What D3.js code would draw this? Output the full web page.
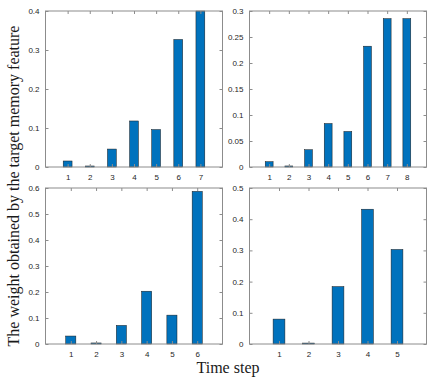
<!DOCTYPE html>
<html>
<head>
<meta charset="utf-8">
<script src="https://cdn.jsdelivr.net/npm/d3@7"></script>
<style>
  body { margin: 0; background: #fff; }
  svg { display: block; }
  .tick text { font-family: "Liberation Sans", Arial, sans-serif; font-size: 8px; fill: #262626; }
</style>
</head>
<body>
<div id="chart-area"></div>
<script>
// values
let steps1 = [1, 2, 3, 4, 5, 6, 7];
let weights1 = [0.0154, 0.0026, 0.046, 0.118, 0.096, 0.327, 0.400];

let steps2 = [1, 2, 3, 4, 5, 6, 7, 8];
let weights2 = [0.0102, 0.002, 0.0332, 0.0836, 0.0683, 0.2323, 0.2853, 0.2853];

let steps3 = [1, 2, 3, 4, 5, 6];
let weights3 = [0.0306, 0.004, 0.0715, 0.203, 0.111, 0.587];

let steps4 = [1, 2, 3, 4, 5];
let weights4 = [0.0798, 0.003, 0.184, 0.432, 0.303];

let yTicks1 = [0, 0.1, 0.2, 0.3, 0.4];
let yTicks2 = [0, 0.05, 0.1, 0.15, 0.2, 0.25, 0.3];
let yTicks3 = [0, 0.1, 0.2, 0.3, 0.4, 0.5, 0.6];
let yTicks4 = [0, 0.1, 0.2, 0.3, 0.4, 0.5];

let width = 436, height = 377;

let svg = d3.select("#chart-area")
    .append("svg")
        .attr("width", width)
        .attr("height", height);

let panels = [
    {steps: steps1, values: weights1, yTicks: yTicks1, xMax: 8, yMax: 0.4, left: 45.5, top: 11},
    {steps: steps2, values: weights2, yTicks: yTicks2, xMax: 9, yMax: 0.3, left: 249.5, top: 11},
    {steps: steps3, values: weights3, yTicks: yTicks3, xMax: 7, yMax: 0.6, left: 45.5, top: 188},
    {steps: steps4, values: weights4, yTicks: yTicks4, xMax: 6, yMax: 0.5, left: 249.5, top: 188}
];
let pw = 177, ph = 156;

panels.forEach(p => {
    let g = svg.append("g")
        .attr("transform", "translate(" + p.left + ", " + p.top + ")");

    let x = d3.scaleLinear().domain([0, p.xMax]).range([0, pw]);
    let y = d3.scaleLinear().domain([0, p.yMax]).range([ph, 0]);
    let barW = x(0.4) - x(0);

    // bars
    g.selectAll("rect.bar")
        .data(p.steps)
        .enter()
        .append("rect")
            .attr("class", "bar")
            .attr("x", (d, i) => x(d) - barW / 2)
            .attr("y", (d, i) => y(p.values[i]))
            .attr("width", barW)
            .attr("height", (d, i) => ph - y(p.values[i]))
            .attr("fill", "#0072BD")
            .attr("stroke", "#1a1a1a")
            .attr("stroke-width", 0.5);

    // axes, ticks pointing inward
    let xAxisCall = d3.axisBottom(x)
        .tickValues(p.steps)
        .tickSizeInner(-3)
        .tickSizeOuter(0)
        .tickPadding(7)
        .tickFormat(d3.format("d"));
    let yAxisCall = d3.axisLeft(y)
        .tickValues(p.yTicks)
        .tickSizeInner(-3)
        .tickSizeOuter(0)
        .tickPadding(6)
        .tickFormat(d => d === 0 ? "0" : d3.format("")(d));

    g.append("g")
        .attr("transform", "translate(0, " + ph + ")")
        .call(xAxisCall);
    g.append("g").call(yAxisCall);

    // mirrored ticks on top and right
    g.append("g")
        .call(d3.axisTop(x).tickValues(p.steps).tickSizeInner(-3).tickSizeOuter(0).tickFormat(""));
    g.append("g")
        .attr("transform", "translate(" + pw + ", 0)")
        .call(d3.axisRight(y).tickValues(p.yTicks).tickSizeInner(-3).tickSizeOuter(0).tickFormat(""));

    g.selectAll(".domain").remove();
    g.selectAll(".tick line").attr("stroke", "#8c8c8c");

    // box
    g.append("rect")
        .attr("width", pw)
        .attr("height", ph)
        .attr("fill", "none")
        .attr("stroke", "#8c8c8c")
        .attr("stroke-width", 1);
});

// shared labels
svg.append("text")
    .attr("x", 228)
    .attr("y", 373)
    .attr("font-family", "'Liberation Serif', 'Times New Roman', serif")
    .attr("font-size", "16px")
    .attr("text-anchor", "middle")
    .attr("fill", "#1a1a1a")
    .text("Time step");

svg.append("text")
    .attr("transform", "translate(19, 186) rotate(-90)")
    .attr("font-family", "'Liberation Serif', 'Times New Roman', serif")
    .attr("font-size", "16px")
    .attr("text-anchor", "middle")
    .attr("fill", "#1a1a1a")
    .text("The weight obtained by the target memory feature");
</script>
</body>
</html>
